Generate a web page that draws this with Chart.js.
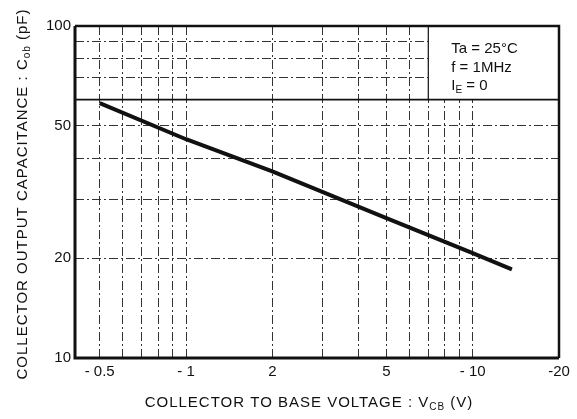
<!DOCTYPE html>
<html>
<head>
<meta charset="utf-8">
<script src="https://cdn.jsdelivr.net/npm/chart.js@4/dist/chart.umd.min.js"></script>
<style>
  html, body { margin: 0; padding: 0; background: #fff; }
  #wrap { width: 577px; height: 419px; }
</style>
</head>
<body>
<div id="wrap"><canvas id="c" width="577" height="419"></canvas></div>
<script>
// ---- data ----
const voltage = [0.5, 1, 2, 5, 10, 13.7];            // -VCB (V)
const capacitance = [58.6, 45.6, 36.5, 26.4, 20.7, 18.5]; // Cob (pF)

const xGridValues = [0.5, 0.6, 0.7, 0.8, 0.9, 1, 2, 3, 4, 5, 6, 7, 8, 9, 10, 20];
const xTickLabels = { 0.5: "- 0.5", 1: "- 1", 2: "2", 5: "5", 10: "- 10", 20: "-20" };
const yGridValues = [10, 20, 30, 40, 50, 60, 70, 80, 90, 100];
const yTickLabels = { 10: "10", 20: "20", 50: "50", 100: "100" };

const conditionLines = [
  [["Ta = 25°C", false]],
  [["f = 1MHz", false]],
  [["I", false], ["E", true], [" = 0", false]]
];
const yTitleParts = [["COLLECTOR OUTPUT CAPACITANCE : C", false], ["ob", true], [" (pF)", false]];
const xTitleParts = [["COLLECTOR TO BASE VOLTAGE : V", false], ["CB", true], [" (V)", false]];

const FONT = '"Liberation Sans", Arial, Helvetica, sans-serif';
const INK = '#111';

function drawParts(ctx, parts, x, y, size, align, spacing) {
  ctx.letterSpacing = (spacing || 0) + 'px';
  let total = 0;
  const widths = parts.map(([t, sub]) => {
    ctx.font = (sub ? Math.round(size * 0.68) : size) + 'px ' + FONT;
    const w = ctx.measureText(t).width;
    total += w;
    return w;
  });
  let cx = align === 'center' ? x - total / 2 : x;
  parts.forEach(([t, sub], i) => {
    ctx.font = (sub ? Math.round(size * 0.68) : size) + 'px ' + FONT;
    ctx.fillText(t, cx, sub ? y + size * 0.22 : y);
    cx += widths[i];
  });
  ctx.letterSpacing = '0px';
}

const decor = {
  id: 'decor',
  beforeDatasetsDraw(chart) {
    const { ctx, scales: { x, y } } = chart;
    const bx = x.getPixelForValue(7), by = y.getPixelForValue(100);
    const bx2 = x.getPixelForValue(20), by2 = y.getPixelForValue(60);
    ctx.save();
    ctx.fillStyle = '#fff';
    ctx.fillRect(bx, by, bx2 - bx, by2 - by);
    ctx.strokeStyle = INK;
    ctx.lineWidth = 1.2;
    ctx.beginPath();
    ctx.moveTo(bx, by); ctx.lineTo(bx, by2);
    ctx.stroke();
    ctx.lineWidth = 1.6;
    ctx.beginPath();
    ctx.moveTo(x.left, by2); ctx.lineTo(x.right, by2);
    ctx.stroke();
    ctx.restore();
  },
  afterDatasetsDraw(chart) {
    const { ctx, chartArea: a, scales: { x, y } } = chart;
    ctx.save();
    ctx.strokeStyle = INK;
    ctx.lineWidth = 3;
    ctx.beginPath();
    ctx.moveTo(a.left, a.top); ctx.lineTo(a.left, a.bottom); ctx.lineTo(a.right, a.bottom);
    ctx.stroke();
    ctx.lineWidth = 2.5;
    ctx.beginPath();
    ctx.moveTo(a.left, a.top); ctx.lineTo(a.right, a.top); ctx.lineTo(a.right, a.bottom);
    ctx.stroke();
    ctx.fillStyle = INK;
    ctx.textBaseline = 'alphabetic';
    ctx.textAlign = 'left';
    const tx = x.getPixelForValue(7) + 23;
    const ty = y.getPixelForValue(100) + 27;
    conditionLines.forEach((parts, i) => drawParts(ctx, parts, tx, ty + i * 18.5, 15, 'left', 0));
    drawParts(ctx, xTitleParts, 309, 407, 15, 'center', 1);
    ctx.translate(27, 194);
    ctx.rotate(-Math.PI / 2);
    drawParts(ctx, yTitleParts, 0, 0, 15, 'center', 1);
    ctx.restore();
  }
};

new Chart(document.getElementById('c'), {
  type: 'line',
  data: {
    datasets: [{
      data: voltage.map((v, i) => ({ x: v, y: capacitance[i] })),
      borderColor: INK,
      borderWidth: 4,
      pointRadius: 0,
      tension: 0,
      fill: false
    }]
  },
  options: {
    responsive: false,
    animation: false,
    devicePixelRatio: 1,
    layout: { padding: { top: 26, right: 18, left: 0, bottom: 0 } },
    plugins: { legend: { display: false }, tooltip: { enabled: false } },
    scales: {
      x: {
        type: 'logarithmic',
        min: 0.41, max: 20,
        afterBuildTicks: s => { s.ticks = xGridValues.map(v => ({ value: v })); },
        afterFit: s => { s.height = 61; },
        ticks: {
          autoSkip: false, maxRotation: 0, minRotation: 0, padding: 5,
          color: INK, font: { family: FONT, size: 15 },
          callback: v => xTickLabels[v] || ''
        },
        grid: { color: '#333', lineWidth: 1, drawTicks: false },
        border: { display: false, dash: [9, 3, 2, 3] }
      },
      y: {
        type: 'logarithmic',
        min: 10, max: 100,
        afterBuildTicks: s => { s.ticks = yGridValues.map(v => ({ value: v })); },
        afterFit: s => { s.width = 75; },
        ticks: {
          autoSkip: false, padding: 4,
          color: INK, font: { family: FONT, size: 15 },
          callback: v => yTickLabels[v] || ''
        },
        grid: { color: '#333', lineWidth: 1, drawTicks: false },
        border: { display: false, dash: [9, 3, 2, 3] }
      }
    }
  },
  plugins: [decor]
});
</script>
</body>
</html>
